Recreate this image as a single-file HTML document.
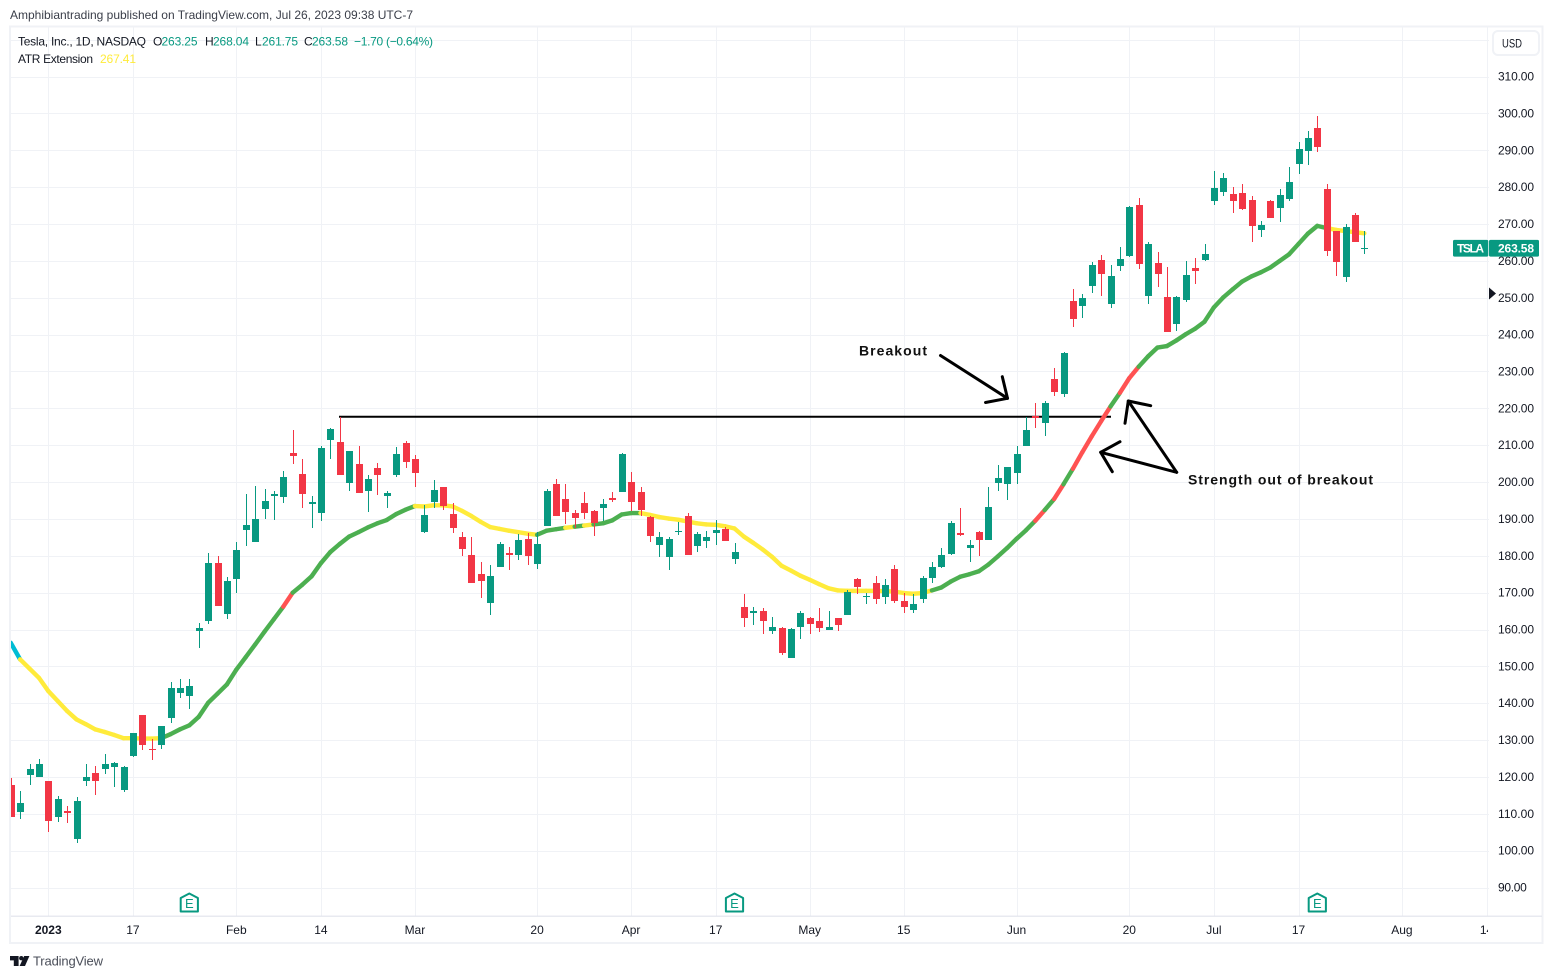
<!DOCTYPE html>
<html lang="en">
<head>
<meta charset="utf-8">
<title>TSLA chart</title>
<style>
html,body{margin:0;padding:0;background:#fff;width:1553px;height:979px;overflow:hidden}
svg{display:block}
text{font-family:"Liberation Sans",sans-serif;font-size:12px;fill:#131722}
</style>
</head>
<body>
<svg id="chart" xmlns="http://www.w3.org/2000/svg" width="1553" height="979" viewBox="0 0 1553 979">
  <defs>
    <clipPath id="pane-clip"><rect x="10" y="27" width="1478" height="889"/></clipPath>
    <clipPath id="time-clip"><rect x="10" y="917" width="1478" height="25"/></clipPath>
  </defs>
  <text x="10" y="19" textLength="403" lengthAdjust="spacing" style="fill:#3a3e49">Amphibiantrading published on TradingView.com, Jul 26, 2023 09:38 UTC-7</text>

  <g id="grid"></g>
  <g id="pane" clip-path="url(#pane-clip)">
    <line x1="339" y1="416.7" x2="1111" y2="416.7" stroke="#000" stroke-width="2"/>
    <g id="atr"></g>
    <g id="candles"></g>
  </g>

  <rect x="10" y="26.5" width="1532.5" height="916.5" fill="none" stroke="#f0f2f6" stroke-width="2"/>
  <line x1="11" y1="916.2" x2="1542" y2="916.2" stroke="#e0e3eb" stroke-width="1.2"/>

  <g>
    <text x="18" y="45.5" textLength="128" lengthAdjust="spacing">Tesla, Inc., 1D, NASDAQ</text>
    <text x="153" y="45.5">O</text>
    <text x="161.5" y="45.5" textLength="36" style="fill:#089981">263.25</text>
    <text x="205" y="45.5">H</text>
    <text x="213" y="45.5" textLength="36" style="fill:#089981">268.04</text>
    <text x="255" y="45.5">L</text>
    <text x="262" y="45.5" textLength="36" style="fill:#089981">261.75</text>
    <text x="304" y="45.5">C</text>
    <text x="312" y="45.5" textLength="36" style="fill:#089981">263.58</text>
    <text x="354" y="45.5" textLength="79" lengthAdjust="spacing" style="fill:#089981">−1.70 (−0.64%)</text>
    <text x="18" y="63" textLength="75" lengthAdjust="spacing">ATR Extension</text>
    <text x="100" y="63" textLength="36" style="fill:#ffeb3b">267.41</text>
  </g>

  <g>
    <text x="859" y="355.5" textLength="68" lengthAdjust="spacing" style="font-weight:bold;font-size:14px;fill:#111">Breakout</text>
    <g fill="none" stroke="#000" stroke-width="3" stroke-linecap="round" stroke-linejoin="round">
      <path d="M940.5 355.5 L1007.5 398.3"/>
      <path d="M1002.3 376.7 L1007.5 398.3 L985.5 402.5"/>
    </g>
  </g>
  <g>
    <g fill="none" stroke="#000" stroke-width="3" stroke-linecap="round" stroke-linejoin="round">
      <path d="M1176.7 472.3 L1128.3 401"/>
      <path d="M1125 423.3 L1128.3 401 L1150.7 405.7"/>
      <path d="M1176.7 472.3 L1100.7 452.3"/>
      <path d="M1120 441.7 L1100.7 452.3 L1112.3 471.7"/>
    </g>
    <text x="1188" y="484.5" textLength="185" lengthAdjust="spacing" style="font-weight:bold;font-size:14px;fill:#111">Strength out of breakout</text>
  </g>

  <g id="earnings"></g>
  <g id="time-axis" clip-path="url(#time-clip)"></g>
  <g id="price-axis"></g>

  <g>
    <rect x="1493" y="31" width="46" height="24" rx="5" fill="#fff" stroke="#f0f2f6" stroke-width="2"/>
    <text x="1502" y="47.5" textLength="20" lengthAdjust="spacingAndGlyphs">USD</text>
  </g>

  <g id="price-tag"></g>
  <polygon points="1489,287.5 1496,293.5 1489,299.5" fill="#131722"/>

  <g>
    <g fill="#131722">
      <polygon points="10,956 18.6,956 18.6,966 13.8,966 13.8,960.4 10,960.4"/>
      <circle cx="21.3" cy="958.2" r="2.2"/>
      <polygon points="24.2,956 29.4,956 25,966 19.6,966"/>
    </g>
    <text x="33" y="965.5" textLength="70" lengthAdjust="spacing" style="font-size:13px;fill:#4a4e59">TradingView</text>
  </g>
</svg>
<script>
const opens = [117.7,110.4,120.4,119.9,118.8,109,110.7,103.1,118.8,121.2,122.1,122.6,116.4,125.6,136.7,127.5,128.6,135.9,142.9,141.9,159.7,162.4,178.1,164.2,173.7,187,183.8,192.7,196.3,196,207.9,202.2,194.1,191.6,211.4,210.9,199.8,204.9,197.6,203.9,196.3,202,210.6,206.3,186.5,194.6,198.7,191.4,185.1,180.3,175.1,167.2,177,180.8,180.3,184.6,177.8,188.1,199.5,195.4,191.6,194.4,192.2,193,195.7,197.3,200,197.3,190.6,183,179.7,186.5,190.8,182.7,183.9,186.3,187.4,179,166.2,164.6,164.9,159.7,160.5,152.4,160.8,163.2,162.2,160,163,163.8,173.8,168.9,172.7,168.7,176.3,167.8,165.4,168.3,174,177,180.6,186.2,182.2,186.5,184.3,199.8,199.5,202.5,209.8,218,216.1,228,223.9,249.2,247.8,253.3,260.3,248.4,258.7,261.4,275.2,250.6,259.5,250.3,243,249.5,258.2,260.3,276.3,278.8,278.2,278.5,276.6,268.4,276.3,274.4,276.9,286.3,289.9,296.1,279.6,268.2,255.7,272.5,263.1];
const highs = [119.8,116.3,123.6,124.8,119,114.7,112,114.5,123.6,122.9,126.1,124.1,122.9,131.8,136.9,130.2,133.7,145.7,146.7,146.7,161.7,180.7,180,174.2,183.7,196.8,199,198.2,197.6,203,214.2,206.2,196.3,209.8,214.7,217.7,208.5,209.8,202,205.2,197.6,209.5,211.2,207.4,193.8,200.6,198.7,194.4,186.5,185.1,178.4,177.5,183.8,182.4,186,186.2,186.5,198.2,200.9,199.5,192.5,197.3,192.5,195.4,197.3,207.9,202.8,198.7,190.8,186.5,185.1,189.2,191.6,186.5,186.6,189.8,187.9,183.6,169.7,166.2,165.7,163.5,160.8,160.5,165.1,163.5,165.7,165.1,163.2,170.8,174.1,170,174.6,173.8,177.6,170,169.7,174.6,178.4,182.2,189.5,193,184.3,186.8,198.7,204.7,204.1,209.8,217.7,221.5,222,231,235.3,252.5,251.1,259.8,261.7,259,263.9,275,277.1,265.2,262.5,258.4,250.6,260.1,260.9,264.7,284.4,283.9,280.1,280.9,277.7,270.9,276.6,279.6,285.5,292.3,295.3,299.4,280.9,268.2,270.1,273.1,268.2];
const lows = [109,108.5,117.7,119.9,105,107.7,107.4,102.1,117.5,115,120.7,117.2,115.8,125.4,127.2,124.5,127.5,134.5,141.3,138.3,154.9,161.4,166.5,162.9,169.9,182.7,183.8,190,189.7,194.4,204.9,193,187.6,189.5,206.3,202,197.6,197.1,191.9,196.5,193,201.4,203.9,198.7,186.2,193,192.5,186.2,180,172.7,168.6,164,177,176.2,178.9,177.5,176.5,188.1,190.8,188.7,187.6,190,185.4,189.5,194.6,197.3,192.2,190.8,183.8,179.7,176.2,185.7,180.3,181,182.2,182.8,183.9,177.9,160.8,161.3,158.9,158.9,153.2,152.4,157.5,158.9,159.2,160,159.7,163.8,169.5,166.8,166.8,167,167.3,164.6,164.6,167.3,172.7,176.7,180.3,185.4,178.4,180,184.3,197.6,195.2,199.5,209.8,214.7,212.5,223.4,223.1,242.2,244.6,251.4,250.6,247.3,257.3,261.1,257.9,248.4,253,240.8,241.1,248.9,253.8,260,275.2,277.7,273.1,273.9,265.2,266.5,271.7,270.6,276.3,283.6,286.1,289.6,261.4,256,254.3,265.2,261.9];
const closes = [109,112.8,122.1,123.4,108,113.9,110.3,113.4,119.9,118.8,123.4,123.7,122.6,131.8,128.8,127.2,133.7,144,144,144.6,160.5,178.1,166.5,173.2,181.6,188.4,190,194.9,196.8,201.4,207.1,196.8,194.6,209.3,214.4,202,208.5,197.1,200.9,202,197.1,207.6,205.5,202.5,191.1,197.9,193.5,187.6,181.9,172.7,173.2,174.6,183.2,180.3,184.3,180,183.2,197.6,190.8,191.9,190.3,191.6,188.9,194.1,195.2,207.6,194.6,192.5,185.4,185.1,184.6,186.8,180.3,186,185.2,187.1,184.1,180.9,163,165.1,162.4,160.8,153.7,160.2,164.6,161.6,160.3,160.8,161.1,170.3,171.6,169.2,168.4,172.2,167.8,166.2,166.8,174,177,180.3,189,185.7,183,184.3,193.3,201.2,204.1,207.7,214.2,217.4,221.5,224.5,235.1,244.3,250,259,256.5,256,260.6,274.7,259.2,264.7,256.5,240.8,250.3,256.3,257.3,262,279.8,282.5,276.3,274.1,269.5,269.8,271.7,277.9,281.5,290.4,293.4,291,262.7,259.8,269.3,265.2,263.6];
const atrValues = [156.4,151.9,149.4,146.9,143.3,140.6,137.9,135.6,134.3,132.9,132.2,131.4,130.5,130.5,130.4,130.4,130.5,131.6,132.9,134,136.3,140.1,142.6,145.1,149.1,152.5,155.9,159.4,162.8,166.2,170,172.1,174.4,178,181,183.2,185.2,186.4,187.7,188.8,189.7,191.3,192.5,193.5,193.4,193.7,193.7,193.4,192.2,190.8,189.2,187.8,187.3,186.8,186.4,186,185.7,186.8,187.2,187.6,187.9,188.2,188.5,188.8,189.6,191.2,191.6,191.6,191.1,190.5,190.1,189.8,189.3,188.8,188.5,188.4,188,187.4,185.2,183.5,181.7,179.7,177.3,176,174.6,173.5,172.3,171.2,170.6,170.5,170.5,170.5,170.5,170.4,170.3,169.9,169.7,169.9,170.6,171.4,173,174.3,175,175.8,177.6,179.8,182.1,184.6,186.9,189.5,192.4,195.4,199.4,203.6,208.1,212.4,216.5,220.5,224.2,228.2,231.3,234.1,236.5,236.9,238.4,240.1,241.6,243.5,247.4,250.1,252.3,254.4,255.8,256.9,258.2,260,261.8,264.6,267.4,269.5,268.9,268.4,268.1,267.8,267.5];
const atrStates = "ccyyyyyyyyyyyyyyygggggggggggggrgggggggggggggyyyyyyyyyyyyygggygygggggyyyyyyyyyyyyyyyyyyyyyyyyyyyyyyygggggggggggrgrgrrrrgrrggggggggggggggggggggyyyyy".split("");
const priceTicks = [310,300,290,280,270,260,250,240,230,220,210,200,190,180,170,160,150,140,130,120,110,100,90];
const extraGridPrices = [320];
const timeTickBars = [4,13,24,33,43,56,66,75,85,95,107,119,128,137,148,157];
const timeTickLabels = ["2023","17","Feb","14","Mar","20","Apr","17","May","15","Jun","20","Jul","17","Aug","14"];
const earningsBars = [19,77,139];
const symbolName = "TSLA";

const NS = "http://www.w3.org/2000/svg";
const stateColor = {c:"#00bcd4", y:"#ffeb3b", g:"#4caf50", r:"#ff5252"};
const xScale = i => 10.7 + 9.4 * i;
const yScale = p => 76.6 + (310 - p) * 3.686;
const UP = "#089981", DOWN = "#f23645";
const GRID = "#f0f2f6";

function mk(tag, parent, attrs) {
  const el = document.createElementNS(NS, tag);
  for (const k in attrs) el.setAttribute(k, attrs[k]);
  parent.appendChild(el);
  return el;
}

const gridG = document.getElementById("grid");
priceTicks.concat(extraGridPrices).forEach(p => {
  const y = Math.round(yScale(p)) + 0.5;
  const el = mk("line", gridG, {x1: 11, x2: 1489, y1: y, y2: y, stroke: GRID, "stroke-width": 1});
  
  
});
timeTickBars.forEach(b => {
  const x = Math.round(xScale(b)) + 0.5;
  const el = mk("line", gridG, {x1: x, x2: x, y1: 27, y2: 916, stroke: GRID, "stroke-width": 1});
  
  
});

const atrG = document.getElementById("atr");
for (let i = 1; i < atrValues.length; i++) {
  const seg = mk("line", atrG, {
    x1: xScale(i - 1), y1: yScale(atrValues[i - 1]),
    x2: xScale(i), y2: yScale(atrValues[i]),
    stroke: stateColor[atrStates[i]], "stroke-width": 4.4, "stroke-linecap": "round"
  });
  
  
}

const candleG = document.getElementById("candles");
closes.forEach((c, i) => {
  const o = opens[i];
  const color = c >= o ? UP : DOWN;
  const X = Math.round(xScale(i));
  const group = mk("g", candleG, {});
  
  
  const yH = Math.round(yScale(highs[i]));
  const yL = Math.round(yScale(lows[i]));
  const wick = mk("rect", group, {x: X, y: yH, width: 1, height: Math.max(1, yL - yH), fill: color});
  
  
  const yT = Math.round(yScale(Math.max(o, c)));
  const yB = Math.round(yScale(Math.min(o, c)));
  const body = mk("rect", group, {x: X - 3, y: yT, width: 7, height: Math.max(1, yB - yT), fill: color});
  
  
});

const priceG = document.getElementById("price-axis");
priceTicks.forEach(p => {
  const label = p.toFixed(2);
  const t = mk("text", priceG, {x: 1498, y: yScale(p) + 4, textLength: (label.length - 1) * 7.2});
  
  
  t.textContent = label;
});

const timeG = document.getElementById("time-axis");
timeTickBars.forEach((b, k) => {
  const t = mk("text", timeG, {x: xScale(b), y: 934, "text-anchor": "middle"});
  
  
  if (k === 0) t.setAttribute("style", "font-weight:bold");
  t.textContent = timeTickLabels[k];
});

const earnG = document.getElementById("earnings");
earningsBars.forEach(b => {
  const cx = xScale(b);
  const g = mk("g", earnG, {});
  
  
  const shape = mk("path", g, {
    d: "M" + (cx - 8.6) + " 911.5 V898 L" + cx + " 893.5 L" + (cx + 8.6) + " 898 V911.5 Z",
    fill: "#fff", stroke: "#089981", "stroke-width": 2, "stroke-linejoin": "round"
  });
  
  
  const letter = mk("text", g, {x: cx, y: 908, "text-anchor": "middle", style: "fill:#089981;font-size:13px"});
  
  
  letter.textContent = "E";
});

const tagG = document.getElementById("price-tag");
const last = closes[closes.length - 1];
const tagY = yScale(last) + 0.6;
const tagBox = mk("rect", tagG, {x: 1453, y: tagY - 8.4, width: 35.3, height: 16.8, rx: 1.5, fill: UP});


const tagText = mk("text", tagG, {x: 1457, y: tagY + 4.2, textLength: 27, style: "fill:#fff;font-weight:bold"});


tagText.textContent = symbolName;
const priceBox = mk("rect", tagG, {x: 1489, y: tagY - 8.4, width: 50, height: 16.8, rx: 1.5, fill: UP});


const priceText = mk("text", tagG, {x: 1498, y: tagY + 4.2, textLength: 36, style: "fill:#fff;font-weight:bold"});


priceText.textContent = last.toFixed(2).replace("263.60", "263.58");
</script>
</body>
</html>
